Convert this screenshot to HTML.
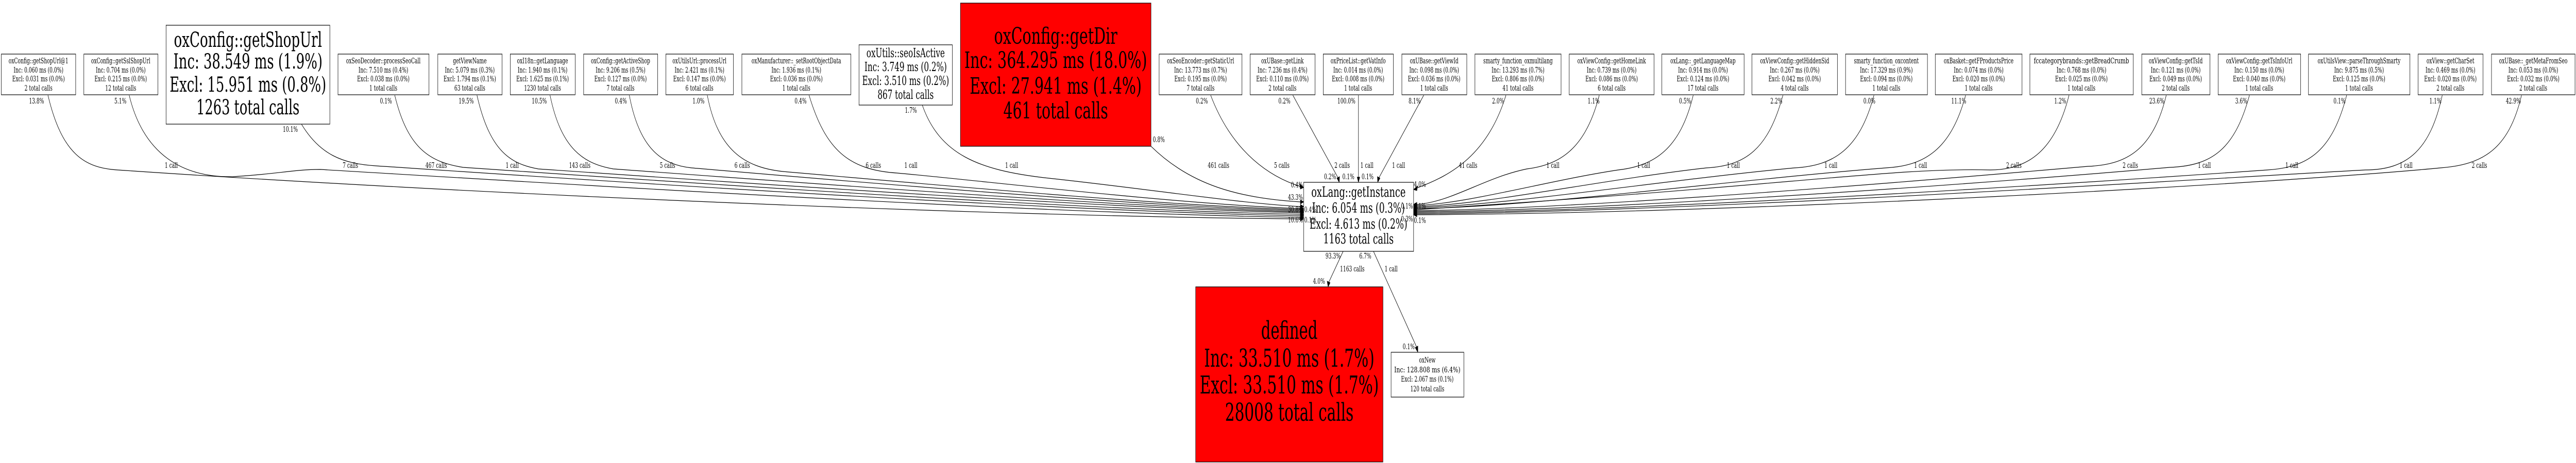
<!DOCTYPE html>
<html><head><meta charset="utf-8"><style>
html,body{margin:0;padding:0;background:#fff;width:100%;height:100%;overflow:hidden}
svg{display:block;overflow:hidden;width:100vw;height:100vh}
text{font-family:"DejaVu Serif","Liberation Serif",serif;fill:#000}
.s{font-size:14.5px;text-anchor:middle}
.l{font-size:14.5px;text-anchor:middle}
.e{font-size:14.5px;text-anchor:end}
.st{font-size:14.5px;text-anchor:start}
rect{stroke:#000;stroke-width:1.2}
path{fill:none;stroke:#000;stroke-width:1.2}
polygon{fill:#000;stroke:#000}
</style></head><body>
<svg viewBox="0 0 7896 899" preserveAspectRatio="none" xmlns="http://www.w3.org/2000/svg">
<path d="M147,185 C190,300 260,326 360,330 C1400,375 3000,420 3986,425"/>
<path d="M396,185 C440,300 560,345 714,343 C850,338 900,329 982,329 C1800,360 3200,415 3986,422"/>
<path d="M924,241 C980,300 1050,318 1152,322 C1700,345 3200,410 3986,419"/>
<path d="M1210,185 C1250,290 1320,315 1420,325 C2000,350 3300,408 3986,416"/>
<path d="M1462,185 C1500,290 1560,318 1650,328 C2200,352 3400,405 3986,413"/>
<path d="M1686,185 C1720,290 1790,318 1880,328 C2400,352 3450,403 3986,411"/>
<path d="M1929,185 C1960,290 2030,320 2120,326 C2600,352 3500,401 3986,409"/>
<path d="M2168,185 C2200,290 2280,325 2400,333 C2800,355 3550,399 3986,407"/>
<path d="M2480,185 C2530,290 2600,330 2750,336 C3000,350 3600,396 3986,405"/>
<path d="M2827,204 C2880,300 3000,330 3200,345 C3500,365 3800,395 3986,401"/>
<path d="M3528,284 C3650,360 3800,385 3986,392"/>
<path d="M3711,185 C3780,300 3900,345 3986,362"/>
<path d="M3963,185 L4102,346"/>
<path d="M4164,185 L4164,346"/>
<path d="M4364,185 L4226,346"/>
<path d="M4616,185 C4560,300 4450,340 4343,365"/>
<path d="M4902,185 C4860,290 4780,320 4680,328 C4550,345 4450,392 4343,397"/>
<path d="M5190,185 C5150,290 5070,322 4960,330 C4750,350 4500,395 4343,399"/>
<path d="M5465,185 C5420,290 5350,322 5230,326 C4900,350 4550,398 4343,401"/>
<path d="M5744,185 C5700,290 5620,322 5500,326 C5100,350 4600,400 4343,403"/>
<path d="M6025,185 C5980,290 5900,322 5780,326 C5300,350 4700,402 4343,405"/>
<path d="M6342,185 C6300,290 6220,330 6100,330 C5800,325 5500,360 4343,407"/>
<path d="M6640,185 C6600,290 6520,320 6400,323 C6000,345 4900,405 4343,409"/>
<path d="M6895,185 C6850,290 6780,322 6650,325 C6200,350 5000,408 4343,411"/>
<path d="M7193,185 C7150,290 7080,325 6950,330 C6500,350 5100,410 4343,413"/>
<path d="M7486,185 C7450,290 7380,330 7250,330 C6800,345 5200,412 4343,415"/>
<path d="M7729,185 C7690,290 7610,320 7480,326 C7000,355 5400,414 4343,417"/>
<path d="M4117,488 L4073,548"/>
<path d="M4210,488 L4343,675"/>
<polygon points="3986,421 3996,425 3986,429"/>
<polygon points="3986,418 3996,422 3986,426"/>
<polygon points="3986,415 3996,419 3986,423"/>
<polygon points="3986,412 3996,416 3986,420"/>
<polygon points="3986,409 3996,413 3986,417"/>
<polygon points="3986,407 3996,411 3986,415"/>
<polygon points="3986,405 3996,409 3986,413"/>
<polygon points="3986,403 3996,407 3986,411"/>
<polygon points="3986,401 3996,405 3986,409"/>
<polygon points="3986,397 3996,401 3986,405"/>
<polygon points="3986,388 3996,392 3986,396"/>
<polygon points="3984,357 3996,364 3986,367"/>
<polygon points="4098,346 4105,354 4106,343"/>
<polygon points="4160,344 4164,354 4168,344"/>
<polygon points="4222,343 4223,354 4230,346"/>
<polygon points="4345,361 4333,368 4343,370"/>
<polygon points="4343,393 4333,397 4343,401"/>
<polygon points="4343,395 4333,399 4343,403"/>
<polygon points="4343,397 4333,401 4343,405"/>
<polygon points="4343,399 4333,403 4343,407"/>
<polygon points="4343,401 4333,405 4343,409"/>
<polygon points="4343,403 4333,407 4343,411"/>
<polygon points="4343,405 4333,409 4343,413"/>
<polygon points="4343,407 4333,411 4343,415"/>
<polygon points="4343,409 4333,413 4343,417"/>
<polygon points="4343,411 4333,415 4343,419"/>
<polygon points="4343,413 4333,417 4343,421"/>
<polygon points="4068,546 4071,557 4077,549"/>
<polygon points="4338,675 4346,684 4346,672"/>

<g><rect x="4" y="105" width="228" height="79" fill="#fff"/><text class="s" x="118" y="123">oxConfig::getShopUrl@1</text><text class="s" x="118" y="141">Inc: 0.060 ms (0.0%)</text><text class="s" x="118" y="158">Excl: 0.031 ms (0.0%)</text><text class="s" x="118" y="176">2 total calls</text></g>
<g><rect x="257" y="105" width="227" height="79" fill="#fff"/><text class="s" x="370" y="123">oxConfig::getSslShopUrl</text><text class="s" x="370" y="141">Inc: 0.704 ms (0.0%)</text><text class="s" x="370" y="158">Excl: 0.215 ms (0.0%)</text><text class="s" x="370" y="176">12 total calls</text></g>
<g><rect x="509" y="49" width="502" height="192" fill="#fff"/>
<text style="font-size:40px;text-anchor:middle" x="760" y="91" textLength="454" lengthAdjust="spacingAndGlyphs">oxConfig::getShopUrl</text>
<text style="font-size:40px;text-anchor:middle" x="760" y="133" textLength="457" lengthAdjust="spacingAndGlyphs">Inc: 38.549 ms (1.9%)</text>
<text style="font-size:40px;text-anchor:middle" x="760" y="178" textLength="480" lengthAdjust="spacingAndGlyphs">Excl: 15.951 ms (0.8%)</text>
<text style="font-size:40px;text-anchor:middle" x="760" y="222" textLength="316" lengthAdjust="spacingAndGlyphs">1263 total calls</text></g>
<g><rect x="1036" y="105" width="279" height="79" fill="#fff"/><text class="s" x="1175" y="123">oxSeoDecoder::processSeoCall</text><text class="s" x="1175" y="141">Inc: 7.510 ms (0.4%)</text><text class="s" x="1175" y="158">Excl: 0.038 ms (0.0%)</text><text class="s" x="1175" y="176">1 total calls</text></g>
<g><rect x="1342" y="105" width="197" height="79" fill="#fff"/><text class="s" x="1440" y="123">getViewName</text><text class="s" x="1440" y="141">Inc: 5.079 ms (0.3%)</text><text class="s" x="1440" y="158">Excl: 1.794 ms (0.1%)</text><text class="s" x="1440" y="176">63 total calls</text></g>
<g><rect x="1564" y="105" width="199" height="79" fill="#fff"/><text class="s" x="1663" y="123">oxI18n::getLanguage</text><text class="s" x="1663" y="141">Inc: 1.940 ms (0.1%)</text><text class="s" x="1663" y="158">Excl: 1.625 ms (0.1%)</text><text class="s" x="1663" y="176">1230 total calls</text></g>
<g><rect x="1789" y="105" width="227" height="79" fill="#fff"/><text class="s" x="1902" y="123">oxConfig::getActiveShop</text><text class="s" x="1902" y="141">Inc: 9.206 ms (0.5%)</text><text class="s" x="1902" y="158">Excl: 0.127 ms (0.0%)</text><text class="s" x="1902" y="176">7 total calls</text></g>
<g><rect x="2041" y="105" width="207" height="79" fill="#fff"/><text class="s" x="2144" y="123">oxUtilsUrl::processUrl</text><text class="s" x="2144" y="141">Inc: 2.421 ms (0.1%)</text><text class="s" x="2144" y="158">Excl: 0.147 ms (0.0%)</text><text class="s" x="2144" y="176">6 total calls</text></g>
<g><rect x="2274" y="105" width="334" height="79" fill="#fff"/><text class="s" x="2441" y="123">oxManufacturer::_setRootObjectData</text><text class="s" x="2441" y="141">Inc: 1.936 ms (0.1%)</text><text class="s" x="2441" y="158">Excl: 0.036 ms (0.0%)</text><text class="s" x="2441" y="176">1 total calls</text></g>
<g><rect x="2633" y="87" width="286" height="117" fill="#fff"/>
<text style="font-size:24px;text-anchor:middle" x="2776" y="111">oxUtils::seoIsActive</text>
<text style="font-size:24px;text-anchor:middle" x="2776" y="138">Inc: 3.749 ms (0.2%)</text>
<text style="font-size:24px;text-anchor:middle" x="2776" y="165">Excl: 3.510 ms (0.2%)</text>
<text style="font-size:24px;text-anchor:middle" x="2776" y="192">867 total calls</text></g>
<g><rect x="2944" y="6" width="584" height="278" fill="#ff0000"/>
<text style="font-size:44px;text-anchor:middle" x="3236" y="85" textLength="378" lengthAdjust="spacingAndGlyphs">oxConfig::getDir</text>
<text style="font-size:44px;text-anchor:middle" x="3236" y="132" textLength="560" lengthAdjust="spacingAndGlyphs">Inc: 364.295 ms (18.0%)</text>
<text style="font-size:44px;text-anchor:middle" x="3236" y="182" textLength="527" lengthAdjust="spacingAndGlyphs">Excl: 27.941 ms (1.4%)</text>
<text style="font-size:44px;text-anchor:middle" x="3236" y="230" textLength="321" lengthAdjust="spacingAndGlyphs">461 total calls</text></g>
<g><rect x="3553" y="105" width="254" height="79" fill="#fff"/><text class="s" x="3680" y="123">oxSeoEncoder::getStaticUrl</text><text class="s" x="3680" y="141">Inc: 13.773 ms (0.7%)</text><text class="s" x="3680" y="158">Excl: 0.195 ms (0.0%)</text><text class="s" x="3680" y="176">7 total calls</text></g>
<g><rect x="3832" y="105" width="199" height="79" fill="#fff"/><text class="s" x="3931" y="123">oxUBase::getLink</text><text class="s" x="3931" y="141">Inc: 7.236 ms (0.4%)</text><text class="s" x="3931" y="158">Excl: 0.110 ms (0.0%)</text><text class="s" x="3931" y="176">2 total calls</text></g>
<g><rect x="4056" y="105" width="215" height="79" fill="#fff"/><text class="s" x="4163" y="123">oxPriceList::getVatInfo</text><text class="s" x="4163" y="141">Inc: 0.014 ms (0.0%)</text><text class="s" x="4163" y="158">Excl: 0.008 ms (0.0%)</text><text class="s" x="4163" y="176">1 total calls</text></g>
<g><rect x="4297" y="105" width="199" height="79" fill="#fff"/><text class="s" x="4396" y="123">oxUBase::getViewId</text><text class="s" x="4396" y="141">Inc: 0.098 ms (0.0%)</text><text class="s" x="4396" y="158">Excl: 0.036 ms (0.0%)</text><text class="s" x="4396" y="176">1 total calls</text></g>
<g><rect x="4521" y="105" width="264" height="79" fill="#fff"/><text class="s" x="4653" y="123">smarty_function_oxmultilang</text><text class="s" x="4653" y="141">Inc: 13.293 ms (0.7%)</text><text class="s" x="4653" y="158">Excl: 0.806 ms (0.0%)</text><text class="s" x="4653" y="176">41 total calls</text></g>
<g><rect x="4810" y="105" width="260" height="79" fill="#fff"/><text class="s" x="4940" y="123">oxViewConfig::getHomeLink</text><text class="s" x="4940" y="141">Inc: 0.739 ms (0.0%)</text><text class="s" x="4940" y="158">Excl: 0.086 ms (0.0%)</text><text class="s" x="4940" y="176">6 total calls</text></g>
<g><rect x="5094" y="105" width="252" height="79" fill="#fff"/><text class="s" x="5220" y="123">oxLang::_getLanguageMap</text><text class="s" x="5220" y="141">Inc: 0.914 ms (0.0%)</text><text class="s" x="5220" y="158">Excl: 0.124 ms (0.0%)</text><text class="s" x="5220" y="176">17 total calls</text></g>
<g><rect x="5370" y="105" width="262" height="79" fill="#fff"/><text class="s" x="5501" y="123">oxViewConfig::getHiddenSid</text><text class="s" x="5501" y="141">Inc: 0.267 ms (0.0%)</text><text class="s" x="5501" y="158">Excl: 0.042 ms (0.0%)</text><text class="s" x="5501" y="176">4 total calls</text></g>
<g><rect x="5657" y="105" width="251" height="79" fill="#fff"/><text class="s" x="5782" y="123">smarty_function_oxcontent</text><text class="s" x="5782" y="141">Inc: 17.329 ms (0.9%)</text><text class="s" x="5782" y="158">Excl: 0.094 ms (0.0%)</text><text class="s" x="5782" y="176">1 total calls</text></g>
<g><rect x="5932" y="105" width="266" height="79" fill="#fff"/><text class="s" x="6065" y="123">oxBasket::getFProductsPrice</text><text class="s" x="6065" y="141">Inc: 0.074 ms (0.0%)</text><text class="s" x="6065" y="158">Excl: 0.020 ms (0.0%)</text><text class="s" x="6065" y="176">1 total calls</text></g>
<g><rect x="6222" y="105" width="317" height="79" fill="#fff"/><text class="s" x="6380" y="123" textLength="292" lengthAdjust="spacingAndGlyphs">fccategorybrands::getBreadCrumb</text><text class="s" x="6380" y="141">Inc: 0.768 ms (0.0%)</text><text class="s" x="6380" y="158">Excl: 0.025 ms (0.0%)</text><text class="s" x="6380" y="176">1 total calls</text></g>
<g><rect x="6565" y="105" width="209" height="79" fill="#fff"/><text class="s" x="6669" y="123">oxViewConfig::getTsId</text><text class="s" x="6669" y="141">Inc: 0.121 ms (0.0%)</text><text class="s" x="6669" y="158">Excl: 0.049 ms (0.0%)</text><text class="s" x="6669" y="176">2 total calls</text></g>
<g><rect x="6799" y="105" width="253" height="79" fill="#fff"/><text class="s" x="6925" y="123">oxViewConfig::getTsInfoUrl</text><text class="s" x="6925" y="141">Inc: 0.150 ms (0.0%)</text><text class="s" x="6925" y="158">Excl: 0.040 ms (0.0%)</text><text class="s" x="6925" y="176">1 total calls</text></g>
<g><rect x="7076" y="105" width="311" height="79" fill="#fff"/><text class="s" x="7231" y="123">oxUtilsView::parseThroughSmarty</text><text class="s" x="7231" y="141">Inc: 9.875 ms (0.5%)</text><text class="s" x="7231" y="158">Excl: 0.125 ms (0.0%)</text><text class="s" x="7231" y="176">1 total calls</text></g>
<g><rect x="7412" y="105" width="199" height="79" fill="#fff"/><text class="s" x="7511" y="123">oxView::getCharSet</text><text class="s" x="7511" y="141">Inc: 0.469 ms (0.0%)</text><text class="s" x="7511" y="158">Excl: 0.020 ms (0.0%)</text><text class="s" x="7511" y="176">2 total calls</text></g>
<g><rect x="7637" y="105" width="256" height="79" fill="#fff"/><text class="s" x="7765" y="123">oxUBase::_getMetaFromSeo</text><text class="s" x="7765" y="141">Inc: 0.053 ms (0.0%)</text><text class="s" x="7765" y="158">Excl: 0.032 ms (0.0%)</text><text class="s" x="7765" y="176">2 total calls</text></g>

<g><rect x="3996" y="354" width="337" height="134" fill="#fff"/>
<text style="font-size:27px;text-anchor:middle" x="4164" y="382" textLength="289" lengthAdjust="spacingAndGlyphs">oxLang::getInstance</text>
<text style="font-size:27px;text-anchor:middle" x="4164" y="413">Inc: 6.054 ms (0.3%)</text>
<text style="font-size:27px;text-anchor:middle" x="4164" y="444">Excl: 4.613 ms (0.2%)</text>
<text style="font-size:27px;text-anchor:middle" x="4164" y="473" textLength="216" lengthAdjust="spacingAndGlyphs">1163 total calls</text></g>
<g><rect x="3665" y="557" width="574" height="340" fill="#ff0000"/>
<text style="font-size:48px;text-anchor:middle" x="3952" y="658" textLength="173" lengthAdjust="spacingAndGlyphs">defined</text>
<text style="font-size:48px;text-anchor:middle" x="3952" y="712" textLength="522" lengthAdjust="spacingAndGlyphs">Inc: 33.510 ms (1.7%)</text>
<text style="font-size:48px;text-anchor:middle" x="3952" y="764" textLength="549" lengthAdjust="spacingAndGlyphs">Excl: 33.510 ms (1.7%)</text>
<text style="font-size:48px;text-anchor:middle" x="3952" y="817" textLength="394" lengthAdjust="spacingAndGlyphs">28008 total calls</text></g>
<g><rect x="4264" y="684" width="223" height="87" fill="#fff"/>
<text class="s" x="4375" y="704">oxNew</text>
<text class="s" x="4375" y="723" textLength="203" lengthAdjust="spacingAndGlyphs">Inc: 128.808 ms (6.4%)</text>
<text class="s" x="4375" y="741">Excl: 2.067 ms (0.1%)</text>
<text class="s" x="4375" y="760">120 total calls</text></g>

<text class="l" x="112" y="201">13.8%</text><text class="l" x="369" y="201">5.1%</text><text class="l" x="890" y="256">10.1%</text><text class="l" x="1183" y="201">0.1%</text><text class="l" x="1429" y="201">19.5%</text><text class="l" x="1653" y="201">10.5%</text><text class="l" x="1903" y="201">0.4%</text><text class="l" x="2141" y="201">1.0%</text><text class="l" x="2454" y="201">0.4%</text><text class="l" x="2792" y="219">1.7%</text><text class="l" x="3552" y="276">0.8%</text><text class="l" x="3684" y="201">0.2%</text><text class="l" x="3937" y="201">0.2%</text><text class="l" x="4127" y="201">100.0%</text><text class="l" x="4336" y="201">8.1%</text><text class="l" x="4592" y="201">2.0%</text><text class="l" x="4885" y="201">1.1%</text><text class="l" x="5165" y="201">0.5%</text><text class="l" x="5445" y="201">2.2%</text><text class="l" x="5730" y="201">0.0%</text><text class="l" x="6004" y="201">11.1%</text><text class="l" x="6315" y="201">1.2%</text><text class="l" x="6611" y="201">23.6%</text><text class="l" x="6870" y="201">3.6%</text><text class="l" x="7171" y="201">0.1%</text><text class="l" x="7465" y="201">1.1%</text><text class="l" x="7704" y="201">42.9%</text>
<text class="l" x="525" y="326">1 call</text><text class="l" x="1074" y="326">7 calls</text><text class="l" x="1337" y="326">467 calls</text><text class="l" x="1570" y="326">1 call</text><text class="l" x="1777" y="326">143 calls</text><text class="l" x="2046" y="326">5 calls</text><text class="l" x="2275" y="326">6 calls</text><text class="l" x="2677" y="326">6 calls</text><text class="l" x="2792" y="326">1 call</text><text class="l" x="3101" y="326">1 call</text><text class="l" x="3735" y="326">461 calls</text><text class="l" x="3929" y="326">5 calls</text><text class="l" x="4114" y="326">2 calls</text><text class="l" x="4190" y="326">1 call</text><text class="l" x="4287" y="326">1 call</text><text class="l" x="4500" y="326">41 calls</text><text class="l" x="4760" y="326">1 call</text><text class="l" x="5038" y="326">1 call</text><text class="l" x="5313" y="326">1 call</text><text class="l" x="5612" y="326">1 call</text><text class="l" x="5887" y="326">1 call</text><text class="l" x="6173" y="326">2 calls</text><text class="l" x="6530" y="326">2 calls</text><text class="l" x="6757" y="326">1 call</text><text class="l" x="7025" y="326">1 call</text><text class="l" x="7375" y="326">1 call</text><text class="l" x="7600" y="326">2 calls</text>
<text class="l" x="4077" y="348">0.2%</text><text class="l" x="4133" y="348">0.1%</text><text class="l" x="4192" y="348">0.1%</text>
<text class="st" x="4334" y="363">4.0%</text>
<text class="e" x="3994" y="364">0.4%</text><text class="e" x="3994" y="388">43.3%</text><text class="e" x="3994" y="412">30.8%</text><text class="e" x="3994" y="432">10.6%</text>
<text class="st" x="3998" y="412">0.4%</text><text class="st" x="3998" y="432">0.1%</text>
<text class="st" x="4334" y="405">0.1%</text><text class="st" x="4334" y="433">0.1%</text>
<text class="e" x="4331" y="405">0.1%</text><text class="e" x="4331" y="430">0.3%</text>
<text class="l" x="4086" y="502">93.3%</text><text class="l" x="4185" y="502">6.7%</text>
<text class="l" x="4145" y="527">1163 calls</text><text class="l" x="4264" y="527">1 call</text>
<text class="l" x="4043" y="551">4.0%</text><text class="l" x="4318" y="678">0.1%</text>
</svg>
</body></html>
